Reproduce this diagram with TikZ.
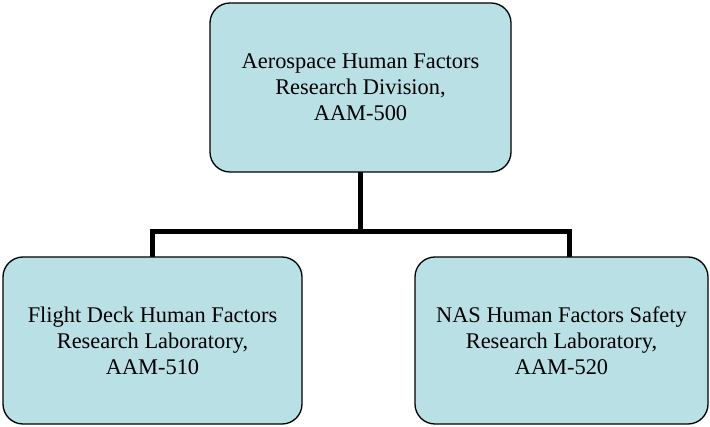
\documentclass[tikz,border=0pt]{standalone}
\usepackage{fontspec}
\setmainfont{Liberation Serif}
\usetikzlibrary{backgrounds}
\definecolor{boxfill}{RGB}{185,224,228}
\begin{document}
\begin{tikzpicture}[x=1pt,y=1pt,
  orgbox/.style={draw=black, line width=1.3pt, fill=boxfill, rounded corners=20pt,
    inner sep=0pt, outer sep=0pt, align=center,
    font=\fontsize{22.4}{26}\selectfont},
  link/.style={draw=black, line width=5pt}]
  \useasboundingbox (0,0) rectangle (710,426);

  % division and its two laboratories
  \node[orgbox, minimum width=301pt, minimum height=169pt] (div) at (360.5,338.5)
    {Aerospace Human Factors\\Research Division,\\AAM-500};
  \node[orgbox, minimum width=299pt, minimum height=167pt] (lab510) at (152.5,85.5)
    {Flight Deck Human Factors\\Research Laboratory,\\AAM-510};
  \node[orgbox, minimum width=293pt, minimum height=167pt] (lab520) at (561.5,85.5)
    {NAS Human Factors Safety\\Research Laboratory,\\AAM-520};

  % branch points of the tree
  \coordinate (bus) at (360.5,194);
  \coordinate (drop520) at (569,169);

  \begin{pgfonlayer}{background}
    \draw[link] (div.south) -- (bus);
    \draw[link] (lab510.north) |- (drop520 |- bus) -- (drop520);
  \end{pgfonlayer}
\end{tikzpicture}
\end{document}
